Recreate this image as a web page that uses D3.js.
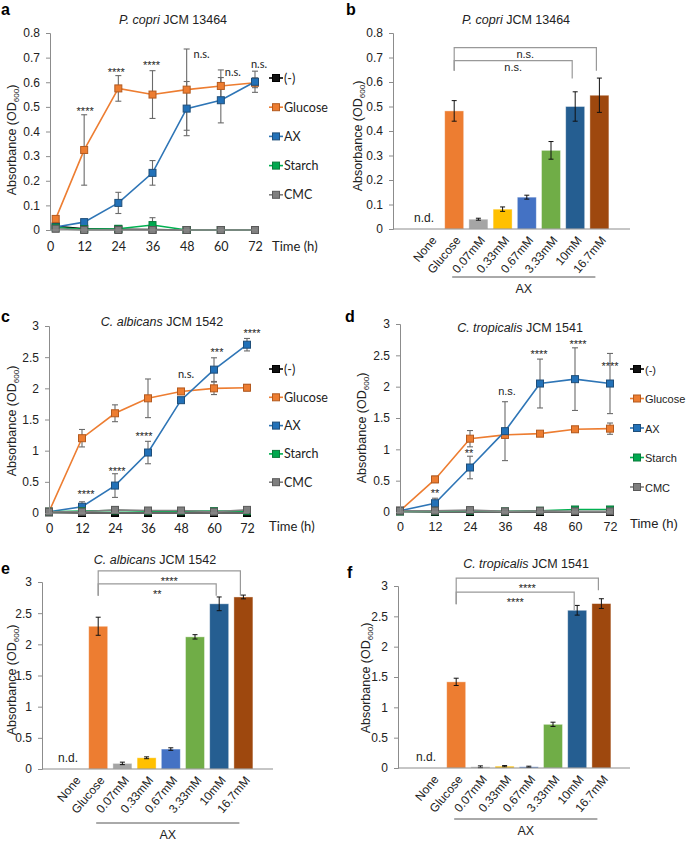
<!DOCTYPE html>
<html><head><meta charset="utf-8">
<script src="https://cdn.jsdelivr.net/npm/d3@7"></script>
<style>body{margin:0;background:#fff}svg{display:block}text{font-family:"Liberation Sans",Arial,sans-serif;fill:#222}</style>
</head><body>
<script>
// ---------- DATA ----------
const seriesNames = ["(-)", "Glucose", "AX", "Starch", "CMC"];
const timesA = [2, 12, 24, 36, 48, 60, 72];
const timesCD = [0, 12, 24, 36, 48, 60, 72];
const timeTicks = [0, 12, 24, 36, 48, 60, 72];

// Panel a: P. copri JCM 13464
const a_neg = [0.015, 0.005, 0.003, 0.002, 0, 0, 0];
const a_glc = [0.045, 0.325, 0.575, 0.55, 0.57, 0.585, 0.598];
const a_glcErr = [0, 0.143, 0.052, 0.097, 0.165, 0.065, 0.02];
const a_ax = [0.012, 0.032, 0.11, 0.232, 0.493, 0.527, 0.602];
const a_axErr = [0.003, 0.008, 0.043, 0.05, 0.11, 0.092, 0.043];
const a_starch = [0.01, 0.003, 0.005, 0.02, 0, 0, 0];
const a_starchErr = [0, 0, 0, 0.03, 0, 0, 0];
const a_cmc = [0.005, 0, 0, 0, 0, 0, 0];
const a_sig = ["", "****", "****", "****", "n.s.", "n.s.", "n.s."];
const a_sigAt = [0, 0.471, 0.629, 0.658, 0.70, 0.627, 0.656];

// Panel c: C. albicans JCM 1542
const c_neg = [0.01, 0, 0, 0, 0, 0, 0];
const c_glc = [0.02, 1.2, 1.6, 1.84, 1.95, 2.0, 2.01];
const c_glcErr = [0, 0.14, 0.135, 0.31, 0.03, 0.1, 0.05];
const c_ax = [0.02, 0.1, 0.44, 0.97, 1.81, 2.3, 2.7];
const c_axErr = [0, 0.08, 0.19, 0.18, 0.04, 0.19, 0.1];
const c_starch = [0.02, 0.03, 0.04, 0.03, 0.03, 0.03, 0.03];
const c_cmc = [0.02, 0.02, 0.05, 0.04, 0.04, 0.02, 0.05];
const c_sig = ["", "****", "****", "****", "n.s.", "***", "****"];
const c_sigAt = [0, 0.257, 0.626, 1.19, 2.17, 2.53, 2.84];

// Panel d: C. tropicalis JCM 1541
const d_neg = [0.01, 0, 0, 0, 0, 0, 0];
const d_glc = [0.02, 0.52, 1.17, 1.23, 1.25, 1.32, 1.33];
const d_glcErr = [0, 0.05, 0.13, 0.05, 0.03, 0.04, 0.09];
const d_ax = [0.02, 0.14, 0.71, 1.29, 2.05, 2.12, 2.05];
const d_axErr = [0, 0.08, 0.18, 0.47, 0.39, 0.5, 0.48];
const d_starch = [0.01, 0.01, 0.02, 0.01, 0.02, 0.04, 0.04];
const d_cmc = [0.02, 0.02, 0.03, 0.01, 0.02, 0.01, 0.01];
const d_sig = ["", "**", "**", "n.s.", "****", "****", "****"];
const d_sigAt = [0, 0.255, 0.89, 1.87, 2.47, 2.63, 2.28];

// Bar panels
const barCats = ["None", "Glucose", "0.07mM", "0.33mM", "0.67mM", "3.33mM", "10mM", "16.7mM"];
const b_vals = [0, 0.482, 0.04, 0.081, 0.13, 0.321, 0.5, 0.546];
const b_err = [0, 0.042, 0.004, 0.009, 0.008, 0.036, 0.06, 0.07];
const e_vals = [0, 2.29, 0.09, 0.18, 0.32, 2.12, 2.65, 2.76];
const e_err = [0, 0.145, 0.02, 0.015, 0.02, 0.035, 0.11, 0.03];
const f_vals = [0, 1.42, 0.02, 0.03, 0.02, 0.72, 2.6, 2.71];
const f_err = [0, 0.06, 0.015, 0.01, 0.01, 0.035, 0.08, 0.08];
const b_brackets = [["Glucose", "16.7mM", "n.s."], ["Glucose", "10mM", "n.s."]];
const e_brackets = [["Glucose", "16.7mM", "****"], ["Glucose", "10mM", "**"]];
const f_brackets = [["Glucose", "16.7mM", "****"], ["Glucose", "10mM", "****"]];
// bracket heights (data units): [bar y, left leg bottom, right leg bottom]
const b_brH = [[0.74, 0.646, 0.646], [0.687, 0.646, 0.614]];
const e_brH = [[3.18, 2.78, 2.78], [2.97, 2.78, 2.78]];
const f_brH = [[3.13, 2.70, 2.93], [2.90, 2.70, 2.60]];

// ---------- STYLE ----------
const lineColor = {"(-)": "#000000", "Glucose": "#ED7D31", "AX": "#2E75B6", "Starch": "#00B050", "CMC": "#808080"};
const markFill = {"(-)": "#111111", "Glucose": "#ED7D31", "AX": "#2271B8", "Starch": "#00A94F", "CMC": "#7F7F7F"};
const markStroke = {"(-)": "#000000", "Glucose": "#B35A1F", "AX": "#1F4E79", "Starch": "#0B7A3B", "CMC": "#595959"};
const barColor = {"None": "#ffffff", "Glucose": "#ED7D31", "0.07mM": "#A5A5A5", "0.33mM": "#FFC000", "0.67mM": "#4472C4", "3.33mM": "#70AD47", "10mM": "#255E91", "16.7mM": "#9E480E"};
const axisGrey = "#8c8c8c";

const svg = d3.select("body").append("svg").attr("width", 686).attr("height", 841);

function title(g, x, y, italic, rest) {
  const t = g.append("text").attr("x", x).attr("y", y).attr("text-anchor", "middle").style("font-size", "12.5px");
  t.append("tspan").style("font-style", "italic").text(italic);
  t.append("tspan").text(rest);
}
function panelLetter(x, y, s) {
  svg.append("text").attr("x", x).attr("y", y).style("font-size", "16px").style("font-weight", "bold").style("fill", "#000").text(s);
}
function yTitle(x, y) {
  const t = svg.append("text").attr("transform", `translate(${x},${y}) rotate(-90)`).attr("text-anchor", "middle").style("font-size", "12.5px");
  t.append("tspan").text("Absorbance (OD");
  t.append("tspan").attr("dy", 3).style("font-size", "8px").text("600");
  t.append("tspan").attr("dy", -3).text(")");
}
function yAxis(y, x0, ticks, fmt) {
  const g = svg.append("g").attr("transform", `translate(${x0},0)`)
    .call(d3.axisLeft(y).tickValues(ticks).tickFormat(fmt).tickSizeOuter(0).tickSize(4).tickPadding(6));
  g.select(".domain").attr("stroke", axisGrey);
  g.selectAll(".tick line").attr("stroke", axisGrey);
  g.selectAll(".tick text").style("font-size", "12px").style("font-family", "Liberation Sans, Arial").style("fill", "#222");
  return g;
}

function linePanel(cfg) {
  const x = d3.scaleLinear().domain([0, 72]).range(cfg.xr);
  const y = d3.scaleLinear().domain([0, cfg.ymax]).range(cfg.yr);
  const g = svg.append("g");
  // x axis
  const xa = svg.append("g").attr("transform", `translate(0,${cfg.yr[0]})`)
    .call(d3.axisBottom(x).tickValues(timeTicks).tickSize(0).tickPadding(cfg.xpad).tickSizeOuter(0));
  xa.select(".domain").attr("stroke", axisGrey).attr("d", `M${cfg.xr[0]},0H${cfg.xr[1] + 2}`);
  xa.selectAll(".tick text").style("font-size", "12.5px").style("font-family", cfg.tickFont).style("fill", "#222");
  yAxis(y, cfg.xr[0], d3.range(0, cfg.ymax + 1e-9, cfg.ystep), cfg.fmt);
  svg.append("text").attr("x", cfg.timeX).attr("y", cfg.timeY).style("font-size", "13px").style("font-family", cfg.tickFont).text("Time (h)");

  const series = cfg.series;
  const lineGen = d3.line().x(d => x(d.t)).y(d => y(d.v));
  // error bars first
  series.forEach(s => {
    if (!s.err) return;
    s.vals.forEach((v, i) => {
      const e = s.err[i]; if (!e) return;
      const cx = x(cfg.times[i]);
      const eg = g.append("g").attr("stroke", "#6b6b6b").attr("stroke-width", 1.1);
      eg.append("line").attr("x1", cx).attr("x2", cx).attr("y1", y(v - e)).attr("y2", y(v + e));
      eg.append("line").attr("x1", cx - 3).attr("x2", cx + 3).attr("y1", y(v - e)).attr("y2", y(v - e));
      eg.append("line").attr("x1", cx - 3).attr("x2", cx + 3).attr("y1", y(v + e)).attr("y2", y(v + e));
    });
  });
  series.forEach(s => {
    const pts = s.vals.map((v, i) => ({t: cfg.times[i], v}));
    g.append("path").datum(pts).attr("d", lineGen).attr("fill", "none").attr("stroke", lineColor[s.name]).attr("stroke-width", 1.6);
    g.selectAll(null).data(pts).enter().append("rect")
      .attr("x", d => x(d.t) - 3.5).attr("y", d => y(d.v) - 3.5).attr("width", 7).attr("height", 7)
      .attr("fill", markFill[s.name]).attr("stroke", markStroke[s.name]).attr("stroke-width", 1);
  });
  // significance
  cfg.sig.forEach((s, i) => {
    if (!s) return;
    const ns = s === "n.s.";
    svg.append("text").attr("x", x(cfg.times[i]) + cfg.sigDx[i]).attr("y", y(cfg.sigAt[i]) + (ns ? 0 : 1))
      .attr("text-anchor", "middle").style("font-size", ns ? "11px" : "11px")
      .style("font-family", ns ? cfg.tickFont : "'Liberation Sans', Arial").text(s);
  });
  // legend
  seriesNames.forEach((n, i) => {
    const ly = cfg.legY + i * cfg.legStep;
    const lg = svg.append("g");
    lg.append("line").attr("x1", cfg.legX).attr("x2", cfg.legX + 14).attr("y1", ly).attr("y2", ly).attr("stroke", lineColor[n]).attr("stroke-width", 1.6);
    lg.append("rect").attr("x", cfg.legX + 3.5).attr("y", ly - 3.5).attr("width", 7).attr("height", 7).attr("fill", markFill[n]).attr("stroke", markStroke[n]);
    lg.append("text").attr("x", cfg.legX + 15).attr("y", ly + 4.5).style("font-size", cfg.legSize).style("font-family", cfg.legFont).text(n);
  });
}

function barPanel(cfg) {
  const x = d3.scaleBand().domain(barCats).range(cfg.bandR).padding(0);
  const y = d3.scaleLinear().domain([0, cfg.ymax]).range(cfg.yr);
  const bw = 19;
  const g = svg.append("g");
  g.selectAll("rect").data(barCats.map((c, i) => ({c, v: cfg.vals[i], e: cfg.err[i]})).filter(d => d.c !== "None"))
    .enter().append("rect")
    .attr("x", d => x(d.c) + x.bandwidth() / 2 - bw / 2).attr("width", bw)
    .attr("y", d => y(d.v)).attr("height", d => y(0) - y(d.v))
    .attr("fill", d => barColor[d.c]).attr("stroke", "#ffffff").attr("stroke-opacity", 0.5).attr("stroke-width", 0.8);
  barCats.forEach((c, i) => {
    const e = cfg.err[i]; if (!e) return;
    const cx = x(c) + x.bandwidth() / 2, v = cfg.vals[i];
    const eg = g.append("g").attr("stroke", "#111").attr("stroke-width", 1);
    eg.append("line").attr("x1", cx).attr("x2", cx).attr("y1", y(v - e)).attr("y2", y(v + e));
    eg.append("line").attr("x1", cx - 2.5).attr("x2", cx + 2.5).attr("y1", y(v - e)).attr("y2", y(v - e));
    eg.append("line").attr("x1", cx - 2.5).attr("x2", cx + 2.5).attr("y1", y(v + e)).attr("y2", y(v + e));
  });
  // n.d.
  svg.append("text").attr("x", x("None") + x.bandwidth() / 2 - 6).attr("y", y(0) - 7).attr("text-anchor", "middle").style("font-size", "12px").text("n.d.");
  // axes
  svg.append("line").attr("x1", cfg.axX[0]).attr("x2", cfg.axX[1]).attr("y1", y(0)).attr("y2", y(0)).attr("stroke", axisGrey);
  yAxis(y, cfg.axX[0], d3.range(0, cfg.ymax + 1e-9, cfg.ystep), cfg.fmt);
  // rotated labels
  barCats.forEach(c => {
    const cx = x(c) + x.bandwidth() / 2 + 4;
    svg.append("text").attr("transform", `translate(${cx},${y(0) + 9}) rotate(-50)`).attr("text-anchor", "end")
      .attr("dy", "0.35em").style("font-size", "12px").text(c);
  });
  // AX group
  const gx0 = x("Glucose") + x.bandwidth() / 2 - 2, gx1 = x("16.7mM") + x.bandwidth() / 2 - 4;
  svg.append("line").attr("x1", gx0).attr("x2", gx1).attr("y1", cfg.grpY).attr("y2", cfg.grpY).attr("stroke", "#555").attr("stroke-width", 1);
  svg.append("text").attr("x", (gx0 + gx1) / 2).attr("y", cfg.grpY + 16).attr("text-anchor", "middle").style("font-size", "12.5px").text("AX");
  // brackets
  cfg.brackets.forEach((b, i) => {
    const [h, l, r] = cfg.brH[i];
    const x0 = x(b[0]) + x.bandwidth() / 2, x1 = x(b[1]) + x.bandwidth() / 2 - 3;
    svg.append("path").attr("d", `M${x0},${y(l)}V${y(h)}H${x1}V${y(r)}`).attr("fill", "none").attr("stroke", "#999").attr("stroke-width", 1.2);
    const stars = b[2] !== "n.s.";
    svg.append("text").attr("x", (x0 + x1) / 2).attr("y", y(h) + (stars ? 14 : 10)).attr("text-anchor", "middle")
      .style("font-size", "11px").text(b[2]);
  });
}

const fmt1 = d => d === 0 ? "0" : d3.format(".1f")(d);
const fmtG = d3.format("~g");
const tickFontCal = "Lato, 'Liberation Sans', sans-serif";

// ---- a ----
panelLetter(1, 15, "a");
title(svg, 173, 24, "P. copri", " JCM 13464");
yTitle(16, 140);
linePanel({xr: [50, 255], yr: [230, 33], ymax: 0.8, ystep: 0.1, fmt: fmt1, times: timesA, xpad: 12,
  tickFont: tickFontCal, legFont: tickFontCal, legSize: "12.5px", timeX: 272, timeY: 251,
  series: [{name: "(-)", vals: a_neg}, {name: "Glucose", vals: a_glc, err: a_glcErr}, {name: "AX", vals: a_ax, err: a_axErr},
    {name: "Starch", vals: a_starch, err: a_starchErr}, {name: "CMC", vals: a_cmc}],
  sig: a_sig, sigAt: a_sigAt, sigDx: [0, 1, -2, -1, 15, 12, 4], legX: 269, legY: 78, legStep: 29.2});

// ---- b ----
panelLetter(346, 15, "b");
title(svg, 516, 24, "P. copri", " JCM 13464");
yTitle(362, 136);
barPanel({bandR: [417.9, 611.5], axX: [393, 630], yr: [229, 33], ymax: 0.8, ystep: 0.1, fmt: fmt1,
  vals: b_vals, err: b_err, brackets: b_brackets, brH: b_brH, grpY: 277});

// ---- c ----
panelLetter(1, 322, "c");
title(svg, 162, 326, "C. albicans", " JCM 1542");
yTitle(16, 421);
linePanel({xr: [49, 247], yr: [513, 326], ymax: 3, ystep: 0.5, fmt: fmtG, times: timesCD, xpad: 11,
  tickFont: tickFontCal, legFont: tickFontCal, legSize: "12.5px", timeX: 269, timeY: 531,
  series: [{name: "(-)", vals: c_neg}, {name: "Glucose", vals: c_glc, err: c_glcErr}, {name: "AX", vals: c_ax, err: c_axErr},
    {name: "Starch", vals: c_starch}, {name: "CMC", vals: c_cmc}],
  sig: c_sig, sigAt: c_sigAt, sigDx: [0, 4, 2, -4, 5, 3, 5], legX: 269, legY: 369, legStep: 28.3});

// ---- d ----
panelLetter(345, 322, "d");
title(svg, 520, 332, "C. tropicalis", " JCM 1541");
yTitle(366, 428);
linePanel({xr: [400, 610], yr: [512, 324], ymax: 3, ystep: 0.5, fmt: fmtG, times: timesCD, xpad: 10,
  tickFont: "'Liberation Sans', Arial", legFont: "'Liberation Sans', Arial", legSize: "11px", timeX: 630, timeY: 528,
  series: [{name: "(-)", vals: d_neg}, {name: "Glucose", vals: d_glc, err: d_glcErr}, {name: "AX", vals: d_ax, err: d_axErr},
    {name: "Starch", vals: d_starch}, {name: "CMC", vals: d_cmc}],
  sig: d_sig, sigAt: d_sigAt, sigDx: [0, 0, -1, 2, -1, 3, 0], legX: 630, legY: 369, legStep: 29.5});

// ---- e ----
panelLetter(1, 574, "e");
title(svg, 155, 564, "C. albicans", " JCM 1542");
yTitle(16, 680);
barPanel({bandR: [61.9, 255.5], axX: [42, 273], yr: [769, 582], ymax: 3, ystep: 0.5, fmt: fmtG,
  vals: e_vals, err: e_err, brackets: e_brackets, brH: e_brH, grpY: 823});

// ---- f ----
panelLetter(347, 578, "f");
title(svg, 526, 568, "C. tropicalis", " JCM 1541");
yTitle(370, 678);
barPanel({bandR: [419.9, 613.5], axX: [398, 630], yr: [768, 586], ymax: 3, ystep: 0.5, fmt: fmtG,
  vals: f_vals, err: f_err, brackets: f_brackets, brH: f_brH, grpY: 819});
</script>
</body></html>
